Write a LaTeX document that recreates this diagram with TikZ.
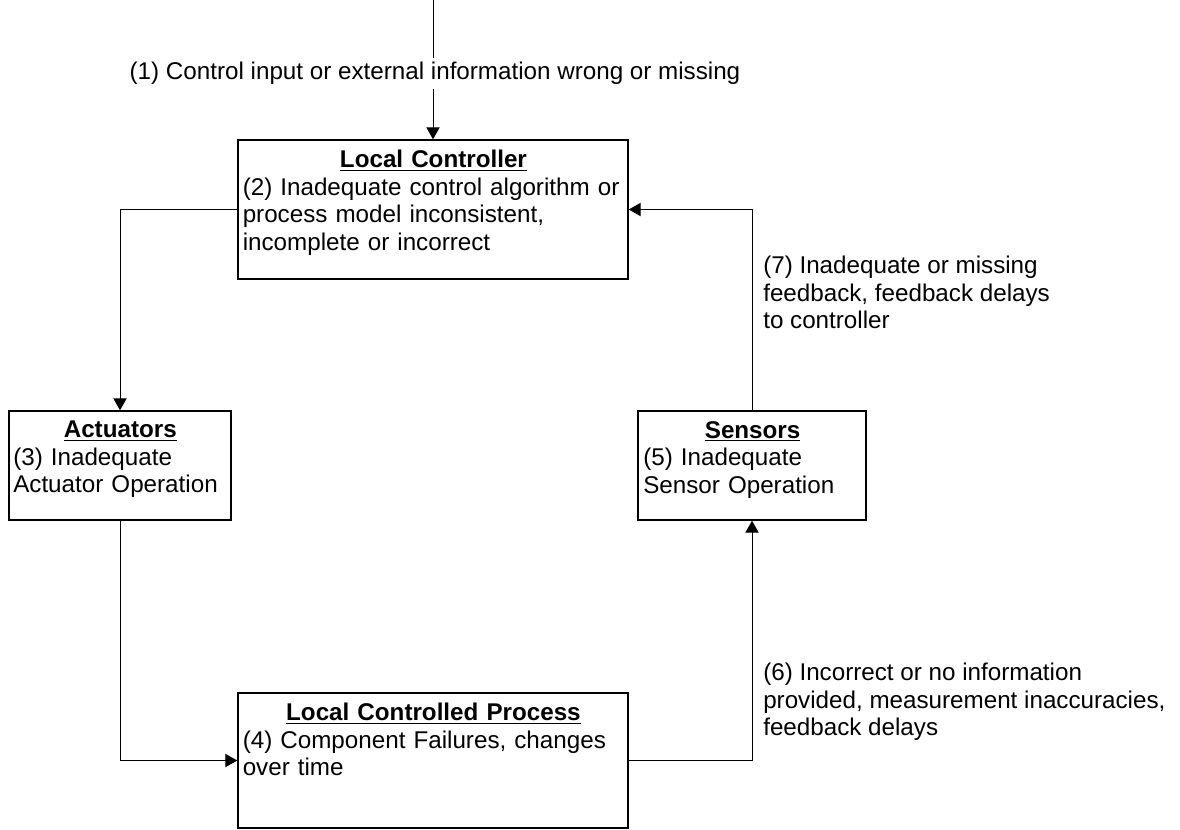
\documentclass[tikz,border=0pt]{standalone}
\usepackage{fontspec}
\setmainfont{Liberation Sans}
\usetikzlibrary{arrows.meta,fit}
\tikzset{
  box/.style={draw, line width=1.1pt, inner sep=0pt},
  txt/.style={anchor=north west, inner sep=0pt, align=left,
    font=\fontsize{18.15pt}{20.6pt}\selectfont},
  lbl/.style={inner sep=0pt, align=left,
    font=\fontsize{18.15pt}{20.6pt}\selectfont},
  conn/.style={line width=0.75pt, -{Triangle[length=9pt,width=10pt]}}
}
\newcommand{\boxtitle}[1]{\noindent\hbox to\hsize{\hfil\underline{\textbf{#1}}\hfil}}
\begin{document}
\begin{tikzpicture}[x=0.75pt,y=-0.75pt]
\fill[white] (0,0) rectangle (1180,829);
\useasboundingbox (0,0) rectangle (1180,829);

% boxes
\node[box, fit={(238,140) (628,279)}] (lc) {};
\node[box, fit={(9,411) (231,520)}] (act) {};
\node[box, fit={(638,411) (866,520)}] (sen) {};
\node[box, fit={(238,693) (628,828)}] (lcp) {};

% box texts
\node[txt, text width=286pt] (lct) at (242.5,150)
  {\boxtitle{Local Controller}\\
   (2) Inadequate control algorithm or\\
   process model inconsistent,\\
   incomplete or incorrect};
\node[txt, text width=160.5pt] (actt) at (13,421)
  {\boxtitle{Actuators}\\
   (3) Inadequate\\
   Actuator Operation};
\node[txt, text width=164pt] (sent) at (643,421)
  {\boxtitle{Sensors}\\
   (5) Inadequate\\
   Sensor Operation};
\node[txt, text width=286pt] (lcpt) at (242.5,703)
  {\boxtitle{Local Controlled Process}\\
   (4) Component Failures, changes\\
   over time};

% connectors
\coordinate (top) at (433,0);
\draw[conn] (top) -- (lc);
\node[lbl, fill=white, inner ysep=3.5pt] (l1) at (435,73.5)
  {(1) Control input or external information wrong or missing};

\draw[conn] (lc.west) -| (act.north);
\draw[conn] (act.south) |- (lcp.west);
\draw[conn] (lcp.east) -| (sen.south);
\draw[conn] (sen.north) |- (lc.east);

% side labels
\node[txt] (l7) at (763,256)
  {(7) Inadequate or missing\\
   feedback, feedback delays\\
   to controller};
\node[txt] (l6) at (763,663)
  {(6) Incorrect or no information\\
   provided, measurement inaccuracies,\\
   feedback delays};
\end{tikzpicture}
\end{document}
